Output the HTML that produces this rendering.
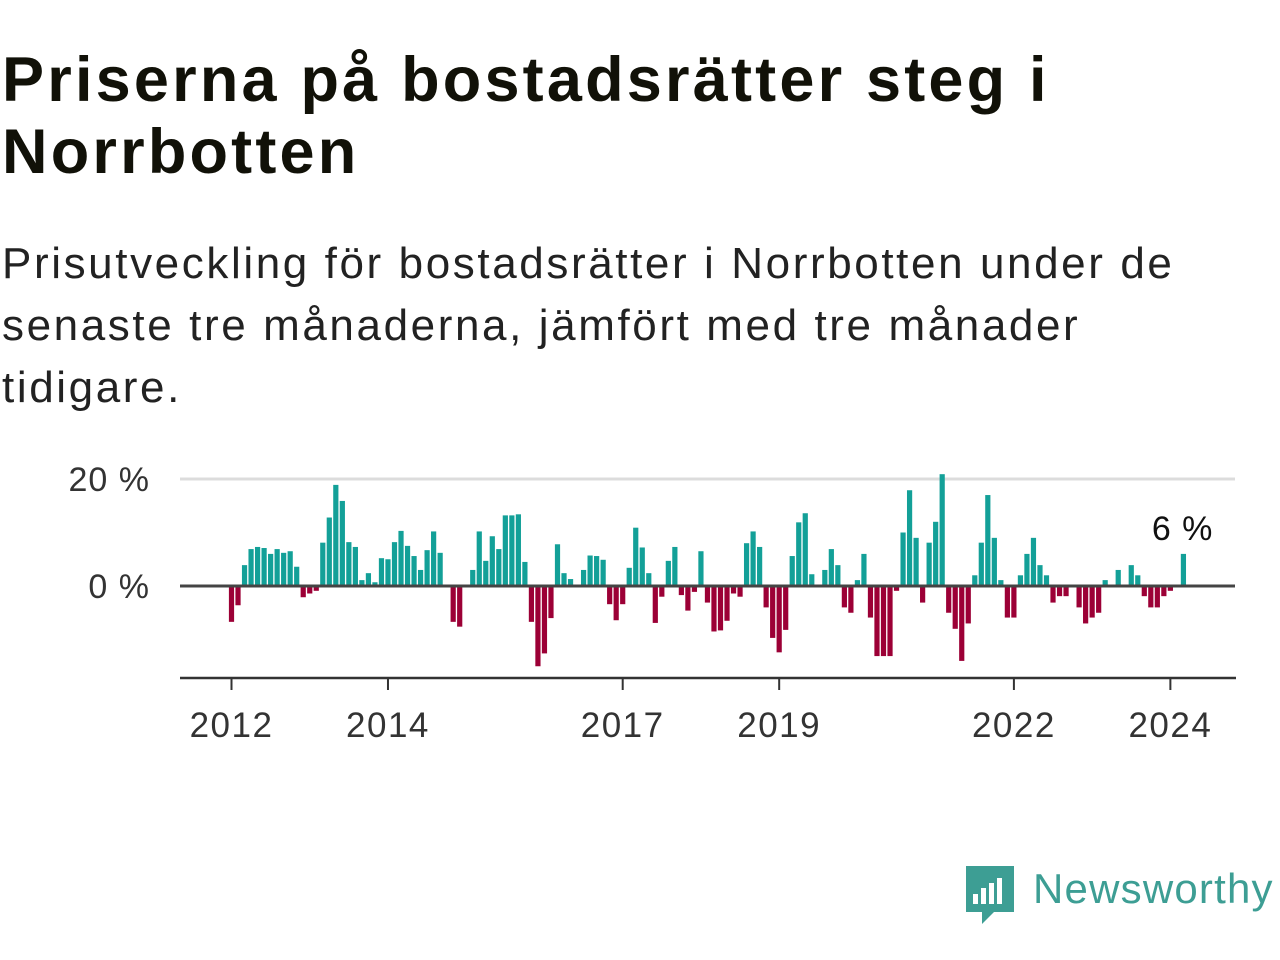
<!DOCTYPE html>
<html><head><meta charset="utf-8"><style>
body{margin:0;width:1280px;height:960px;background:#fff;overflow:hidden;font-family:"Liberation Sans","DejaVu Sans",sans-serif;color:#111}
#title{position:absolute;left:2px;top:44px;font-size:63px;font-weight:bold;line-height:72px;margin:0;color:#111108;letter-spacing:3.2px}
#sub{position:absolute;left:2px;top:233px;font-size:44px;line-height:62px;margin:0;color:#222;letter-spacing:2.6px}
svg{position:absolute;left:0;top:0}
</style></head><body>
<h1 id="title">Priserna på bostadsrätter steg i<br>Norrbotten</h1>
<p id="sub">Prisutveckling för bostadsrätter i Norrbotten under de<br>senaste tre månaderna, jämfört med tre månader<br>tidigare.</p>
<svg id="chart" width="1280" height="960"></svg>
<script>
const values=[-6.7,-3.6,3.9,6.9,7.3,7.1,6.0,6.9,6.2,6.5,3.6,-2.1,-1.4,-0.9,8.1,12.8,18.9,15.9,8.2,7.3,1.1,2.4,0.7,5.2,5.0,8.2,10.3,7.5,5.6,3.0,6.7,10.2,6.2,0,-6.7,-7.6,0,3.0,10.2,4.7,9.3,6.9,13.2,13.2,13.4,4.5,-6.7,-15,-12.6,-6.0,7.8,2.4,1.3,0,3.0,5.7,5.6,4.9,-3.4,-6.4,-3.4,3.4,10.9,7.2,2.4,-6.9,-2.0,4.7,7.3,-1.7,-4.6,-1.1,6.5,-3.1,-8.5,-8.3,-6.5,-1.4,-2.0,8.0,10.2,7.3,-4.0,-9.7,-12.4,-8.2,5.6,11.9,13.6,2.2,0,3.0,6.9,3.9,-4.0,-5.0,1.1,6.0,-5.9,-13.1,-13.1,-13.1,-0.9,10.0,17.9,9.0,-3.1,8.1,12.0,20.9,-5.0,-8.0,-14.0,-7.0,2.0,8.1,17.0,9.0,1.1,-5.9,-5.9,2.0,6.0,9.0,3.9,2.0,-3.1,-1.9,-1.9,0,-4.0,-7.0,-5.9,-5.0,1.1,0,3.0,0,3.9,2.0,-1.9,-4.0,-4.0,-1.9,-0.9,0,6.0];
const startYear=2012;
const yTicks=[0,20];
const yTickLabels=["0 %","20 %"];
const xTickYears=[2012,2014,2017,2019,2022,2024];
const NS="http://www.w3.org/2000/svg";
const svg=document.getElementById('chart');
const x0=231.5,step=6.52,y0=586,ppu=5.35;
function xs(i){return x0+i*step;}
function ys(v){return y0-v*ppu;}
function mk(t,a){const e=document.createElementNS(NS,t);for(const k in a)e.setAttribute(k,a[k]);svg.appendChild(e);return e;}
yTicks.forEach((t,i)=>{
  if(t!==0){const g=mk('line',{x1:180,x2:1235,y1:ys(t),y2:ys(t),stroke:'#dcdcdc','stroke-width':3});
  
  }
  const l=mk('text',{x:150,y:ys(t)+12,'text-anchor':'end','font-size':34,'letter-spacing':1,fill:'#333','font-family':'Liberation Sans, DejaVu Sans, sans-serif'});
  l.textContent=yTickLabels[i];
  
  
});
values.forEach((v,i)=>{
  if(v===0)return;
  const r=mk('rect',{x:xs(i)-2.6,width:5.2,y:v>0?ys(v):y0,height:Math.abs(v)*ppu,fill:v>0?'#13a098':'#9c0036'});
  
  
});
const z=mk('line',{x1:180,x2:1235,y1:y0,y2:y0,stroke:'#444','stroke-width':3});


const ax=mk('line',{x1:180,x2:1236,y1:678,y2:678,stroke:'#333','stroke-width':2.5});


xTickYears.forEach(y=>{
  const xx=xs((y-startYear)*12);
  const tk=mk('line',{x1:xx,x2:xx,y1:678,y2:690,stroke:'#333','stroke-width':2});
  
  
  const t=mk('text',{x:xx,y:737,'text-anchor':'middle','font-size':35,'letter-spacing':1.5,fill:'#333','font-family':'Liberation Sans, DejaVu Sans, sans-serif'});
  t.textContent=String(y);
  
  
});
const last=values.length-1;
const lab=mk('text',{x:xs(last)+30,y:ys(values[last])-14,'text-anchor':'end','font-size':34,'letter-spacing':1,fill:'#111','font-family':'Liberation Sans, DejaVu Sans, sans-serif'});
lab.textContent=Math.round(values[last])+" %";


</script>
<svg width="1280" height="960" style="pointer-events:none">
<path d="M966 866h48v46h-20l-12 12v-12h-16z" fill="#3d9e94"/>
<rect x="973" y="894" width="5" height="10" fill="#fff"/>
<rect x="981" y="888" width="5" height="16" fill="#fff"/>
<rect x="989" y="883" width="5" height="21" fill="#fff"/>
<rect x="997" y="878" width="5" height="26" fill="#fff"/>
<text x="1033" y="903" font-size="42" letter-spacing="1.2" fill="#3d9e94" font-family="Liberation Sans, DejaVu Sans, sans-serif">Newsworthy</text>
</svg>
</body></html>
